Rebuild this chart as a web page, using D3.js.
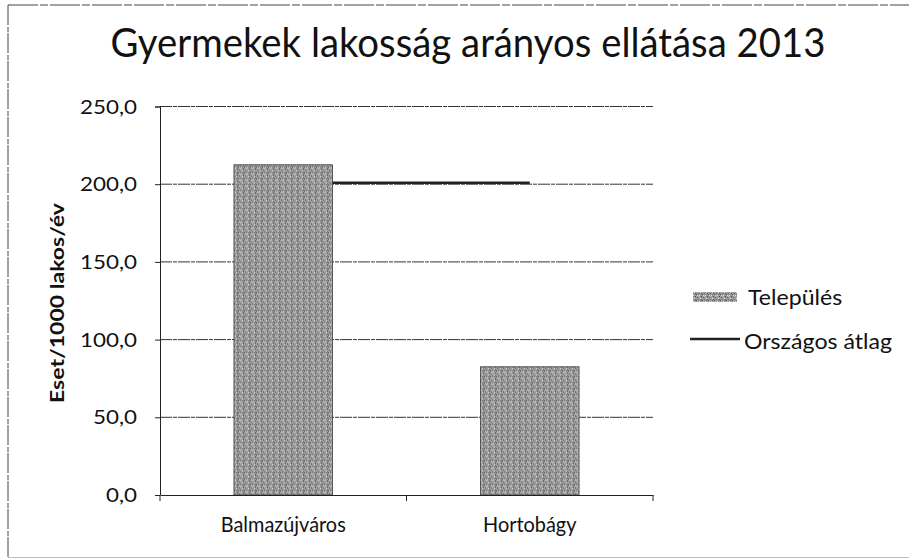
<!DOCTYPE html>
<html>
<head>
<meta charset="utf-8">
<script src="https://cdn.jsdelivr.net/npm/d3@7"></script>
<style>
html,body{margin:0;padding:0;background:#fff;}
svg{display:block;}
text{font-family:Lato,"Open Sans",sans-serif;fill:#111;}
</style>
</head>
<body>
<svg id="c" width="909" height="559"></svg>
<script>
const title = "Gyermekek lakosság arányos ellátása 2013";
const yLabel = "Eset/1000 lakos/év";
const categories = ["Balmazújváros", "Hortobágy"];
const telepules = [212.5, 82.5];
const orszagosAtlag = [201, 201];
const yTicks = [0, 50, 100, 150, 200, 250];
const seriesNames = ["Település", "Országos átlag"];

const svg = d3.select("#c");
const W = 909, H = 559;
const m = {left:160, right:909-653, top:106.5, bottom:559-495};
const pw = W - m.left - m.right, ph = H - m.top - m.bottom;

// set font size (for glyph height) and stretch horizontally so that the reference width is matched
function stretch(sel, size, refSel, target) {
  sel.attr("font-size", size);
  const w0 = (refSel || sel).node().getComputedTextLength();
  const f = target / w0;
  sel.each(function(){
    const w = this.getComputedTextLength();
    d3.select(this).attr("textLength", w * f).attr("lengthAdjust", "spacingAndGlyphs");
  });
}

// texture pattern for bars
const defs = svg.append("defs");
const pat = defs.append("pattern").attr("id","tex").attr("width",6).attr("height",6).attr("patternUnits","userSpaceOnUse");
pat.append("rect").attr("width",6).attr("height",6).attr("fill","#9c9c9c");
const dots = [[0,0,"#4a4a4a"],[3,1,"#d8d8d8"],[1,3,"#5e5e5e"],[4,4,"#e2e2e2"],[2,5,"#6a6a6a"],[5,2,"#454545"],[1,1,"#cfcfcf"],[4,0,"#7a7a7a"],[2,2,"#bdbdbd"],[5,5,"#595959"]];
dots.forEach(d=>pat.append("rect").attr("x",d[0]).attr("y",d[1]).attr("width",1).attr("height",1).attr("fill",d[2]));

// outer frame
svg.append("line").attr("x1",8).attr("x2",909).attr("y1",5).attr("y2",5).attr("stroke","#444").attr("stroke-width",1).attr("stroke-dasharray","30 2 8 2");
svg.append("line").attr("x1",8).attr("x2",8).attr("y1",5).attr("y2",557).attr("stroke","#444").attr("stroke-width",1).attr("stroke-dasharray","20 2 5 1");
svg.append("line").attr("x1",8).attr("x2",909).attr("y1",557.5).attr("y2",557.5).attr("stroke","#bbb").attr("stroke-width",1);

const g = svg.append("g").attr("transform",`translate(${m.left},${m.top})`);
const x = d3.scaleBand().domain(categories).range([0,pw]).paddingInner(0.6).paddingOuter(0.3);
const xc = d3.scaleBand().domain(categories).range([0,pw]);
const y = d3.scaleLinear().domain([0,250]).range([ph,0]);

// gridlines
g.append("g").selectAll("line").data(yTicks.slice(1)).join("line")
  .attr("x1",0).attr("x2",pw).attr("y1",d=>y(d)).attr("y2",d=>y(d))
  .attr("stroke","#333").attr("stroke-width",1).attr("stroke-dasharray","12 1 4 1");

// line series (bars are drawn over it, as in the reference)
const line = d3.line().x((d,i)=>xc(categories[i]) + xc.bandwidth()/2).y(d=>y(d));
g.append("path").datum(orszagosAtlag).attr("d",line)
  .attr("fill","none").attr("stroke","#222").attr("stroke-width",2.5);

// bars
g.append("g").selectAll("rect").data(categories).join("rect")
  .attr("x",d=>x(d)).attr("width",x.bandwidth())
  .attr("y",(d,i)=>y(telepules[i])).attr("height",(d,i)=>ph - y(telepules[i]))
  .attr("fill","url(#tex)").attr("stroke","#3a3a3a").attr("stroke-width",0.8);

// y axis
const ya = g.append("g").call(d3.axisLeft(y).tickValues(yTicks).tickSize(5).tickFormat(d=>d3.format(".1f")(d).replace(".",",")));
ya.select(".domain").attr("stroke","#222").attr("d",`M-5,0.5H0.5V${ph}`);
ya.selectAll(".tick line").attr("stroke","#222");
const yt = ya.selectAll(".tick text").attr("x",-23).attr("font-family","Lato,'Open Sans',sans-serif").attr("fill","#111").attr("dy","0.36em");
stretch(yt, 18.5, yt.filter(d=>d===250), 57);

// x axis
const xa = g.append("g").attr("transform",`translate(0,${ph})`).call(d3.axisBottom(xc).tickSize(0).tickPadding(22));
xa.select(".domain").attr("stroke","#222");
const xt = xa.selectAll(".tick text").attr("font-family","Lato,'Open Sans',sans-serif").attr("fill","#111");
stretch(xt, 20.5, xt.filter(d=>d===categories[0]), 125);
xa.append("g").selectAll("line").data([0, ...categories.map(c=>xc(c)+xc.bandwidth())]).join("line")
  .attr("x1",d=>d).attr("x2",d=>d).attr("y1",0).attr("y2",6).attr("stroke","#222");

// y label
const yl = svg.append("text").attr("transform","translate(64,303) rotate(-90)").attr("text-anchor","middle")
  .attr("font-weight","bold").text(yLabel);
stretch(yl, 18.5, null, 200);

// title
const t = svg.append("text").attr("x",468).attr("y",57).attr("text-anchor","middle").text(title);
stretch(t, 40, null, 715);

// legend
const lg = svg.append("g");
lg.append("rect").attr("x",693).attr("y",292).attr("width",44).attr("height",10).attr("fill","url(#tex)");
const l1 = lg.append("text").attr("x",748).attr("y",305).text(seriesNames[0]);
lg.append("line").attr("x1",690).attr("x2",740).attr("y1",339).attr("y2",339).attr("stroke","#222").attr("stroke-width",2.5);
const l2 = lg.append("text").attr("x",744).attr("y",349).text(seriesNames[1]);
stretch(lg.selectAll("text"), 20.5, l2, 148);
</script>
</body>
</html>
